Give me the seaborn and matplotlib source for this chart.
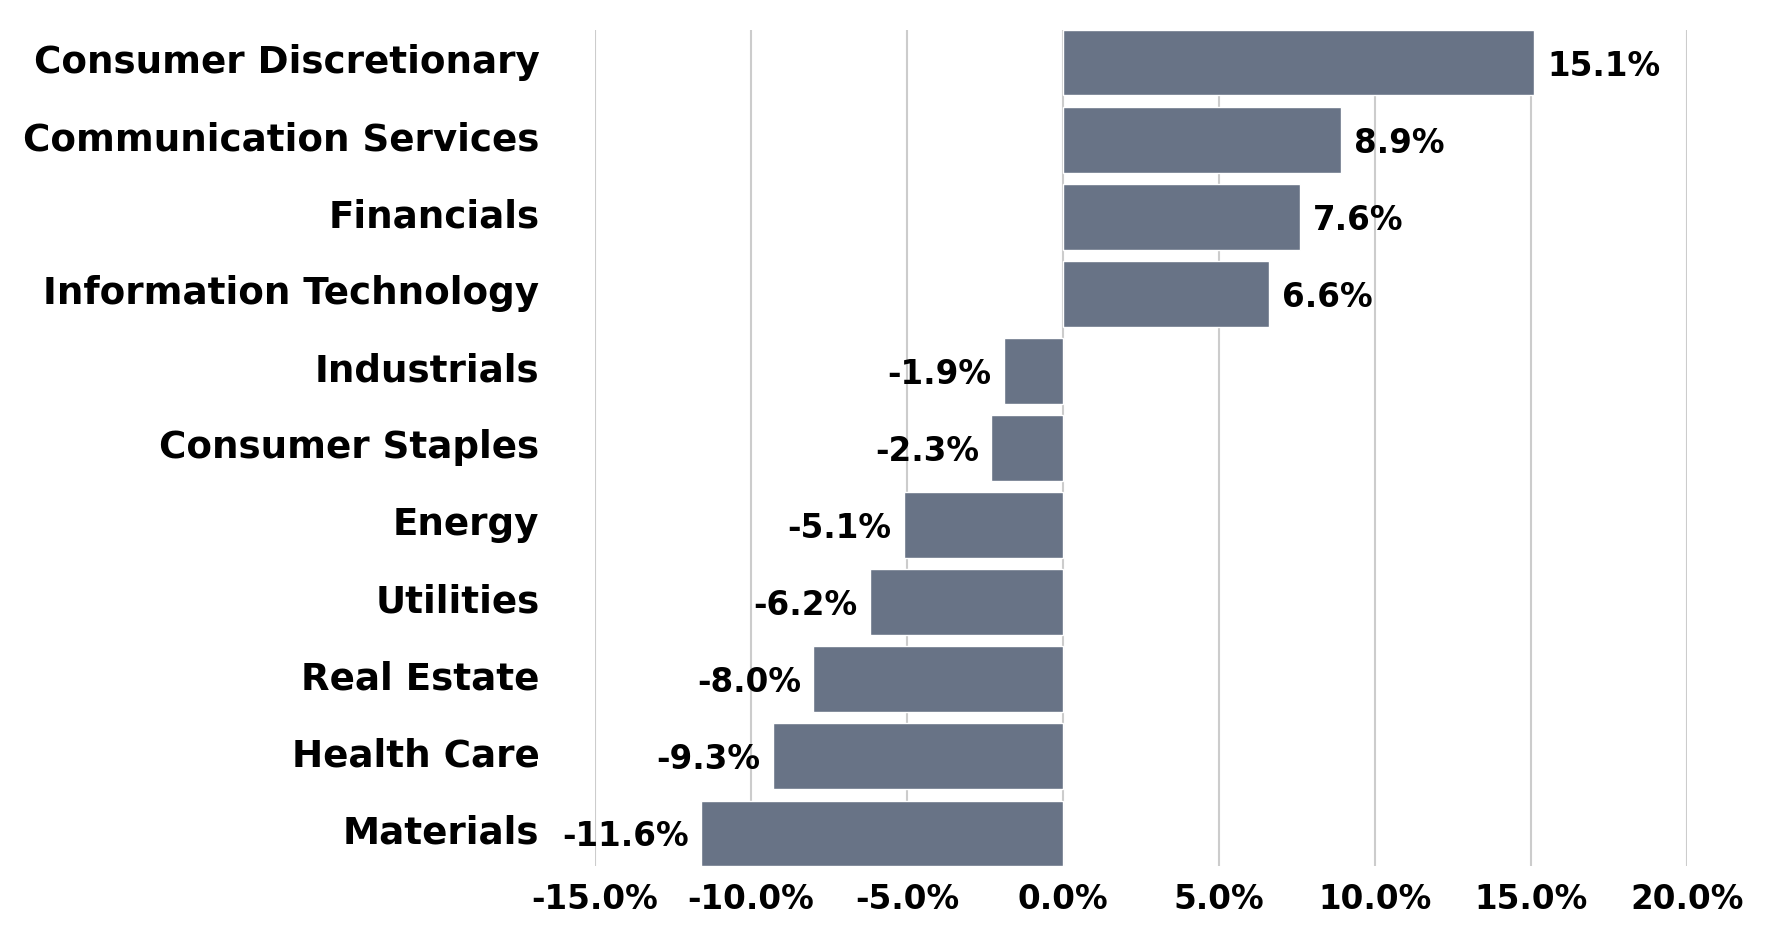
import matplotlib
matplotlib.use("Agg")
import matplotlib.pyplot as plt
import matplotlib.transforms as mtransforms
import seaborn as sns
import pandas as pd

sectors = ["Consumer Discretionary", "Communication Services", "Financials",
           "Information Technology", "Industrials", "Consumer Staples", "Energy",
           "Utilities", "Real Estate", "Health Care", "Materials"]
returns = [15.1, 8.9, 7.6, 6.6, -1.9, -2.3, -5.1, -6.2, -8.0, -9.3, -11.6]
xticks = [-15, -10, -5, 0, 5, 10, 15, 20]

df = pd.DataFrame({"sector": sectors, "ret": returns})

sns.set_theme(style="white")
plt.rcParams['font.family'] = ['DejaVu Sans']
plt.rcParams['font.weight'] = 'bold'

fig = plt.figure(figsize=(17.71, 9.44), dpi=100)
ax = fig.add_axes([595/1771, 1-866/944, 1092/1771, (866-30)/944])

for x in xticks:
    ax.axvline(x, color="#cccccc", lw=1.5, zorder=0)

sns.barplot(data=df, x="ret", y="sector", orient="h", color="#687386",
            saturation=1, width=0.85, ax=ax, zorder=2)

FS_LAB = 26.8
FS_NUM = 23.5
for i, v in enumerate(returns):
    if v >= 0:
        ax.text(v + 0.42, i, f"{v:.1f}%", ha="left", va="center_baseline",
                fontsize=FS_NUM, fontweight="bold", color="black")
    else:
        ax.text(v - 0.4, i, f"{v:.1f}%", ha="right", va="center_baseline",
                fontsize=FS_NUM, fontweight="bold", color="black")

ax.set_xlim(-15, 20)
ax.set_ylim(10.425, -0.425)
ax.set_xticks(xticks)
ax.set_xticklabels([f"{t:.1f}%" for t in xticks], fontsize=FS_NUM, fontweight="bold", color="black")
ax.set_yticks(range(len(sectors)))
ax.set_yticklabels(sectors, fontsize=FS_LAB, fontweight="bold", color="black")
ax.tick_params(axis="y", length=0, pad=40)
ax.tick_params(axis="x", length=0, pad=12)
shift = mtransforms.ScaledTranslation(0, 3/72, fig.dpi_scale_trans)
for lab in ax.get_yticklabels():
    lab.set_transform(lab.get_transform() + shift)
ax.set_xlabel("")
ax.set_ylabel("")
for s in ax.spines.values():
    s.set_visible(False)
ax.grid(False)

fig.savefig("out.png", dpi=100, facecolor="white")
